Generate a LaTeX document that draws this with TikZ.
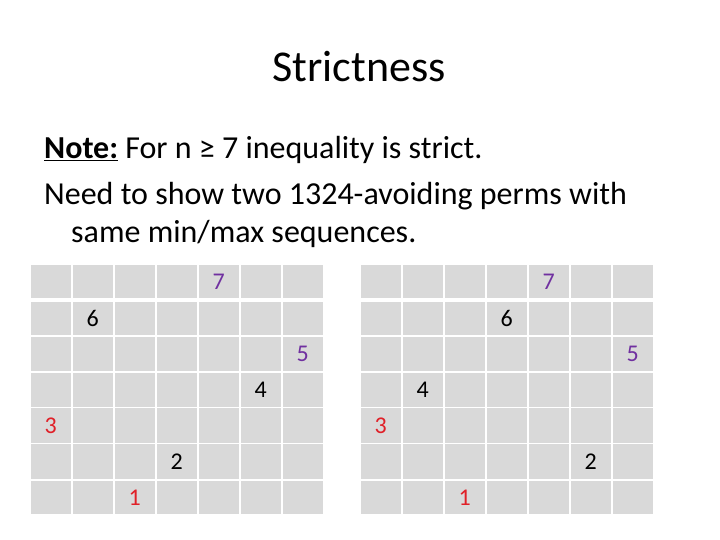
\documentclass[tikz,border=0pt]{standalone}
\usepackage{fontspec}
\setmainfont{Carlito}
\definecolor{cellgray}{HTML}{D9D9D9}
\definecolor{numpurple}{HTML}{7030A0}
\definecolor{numred}{RGB}{224,32,40}
\tikzset{
  cellbox/.style={fill=cellgray, draw=none},
  num/.style={anchor=base, inner sep=0pt, font=\fontsize{24}{28}\selectfont},
  bodyline/.style={anchor=base west, inner sep=0pt, font=\fontsize{32}{38}\selectfont},
}
\begin{document}
\begin{tikzpicture}[x=1pt,y=-1pt]
\useasboundingbox (0,0) rectangle (720,540);
\fill[white] (0,0) rectangle (720,540);
% title
\node[anchor=base, inner sep=0pt, font=\fontsize{44}{52}\selectfont] (title) at (359,82) {Strictness};
% body
\node[bodyline] (line1) at (44,159) {\underline{\textbf{Note:}} For n ≥ 7 inequality is strict.};
\node[bodyline] (line2) at (44,205) {Need to show two 1324-avoiding perms with};
\node[bodyline] (line3) at (71,242) {same min/max sequences.};
% grids
\foreach \gx in {30.7,360.7}{
  \foreach \top/\bot in {265.0/297.7,301.7/335.0,336.7/371.0,372.7/406.7,408.3/442.7,444.3/479.0,480.7/514.3}{
    \foreach \c in {0,...,6}{
      \fill[cellgray] ({\gx+42*\c},\top) rectangle ({\gx+42*\c+40},\bot);
    }
  }
}
% baseline positions for the rows
\def\rA{289.2}\def\rB{326.2}\def\rC{361.7}\def\rD{397.6}\def\rE{433.4}\def\rF{469.5}\def\rG{505.4}
% left grid numbers: column centres 50.7 + 42*k
\node[num, text=numpurple] (L7) at (218.7,\rA) {7};
\node[num] (L6) at (92.7,\rB) {6};
\node[num, text=numpurple] (L5) at (302.7,\rC) {5};
\node[num] (L4) at (260.7,\rD) {4};
\node[num, text=numred] (L3) at (50.7,\rE) {3};
\node[num] (L2) at (176.7,\rF) {2};
\node[num, text=numred] (L1) at (134.7,\rG) {1};
% right grid numbers: column centres 380.7 + 42*k
\node[num, text=numpurple] (R7) at (548.7,\rA) {7};
\node[num] (R6) at (506.7,\rB) {6};
\node[num, text=numpurple] (R5) at (632.7,\rC) {5};
\node[num] (R4) at (422.7,\rD) {4};
\node[num, text=numred] (R3) at (380.7,\rE) {3};
\node[num] (R2) at (590.7,\rF) {2};
\node[num, text=numred] (R1) at (464.7,\rG) {1};
\end{tikzpicture}
\end{document}
